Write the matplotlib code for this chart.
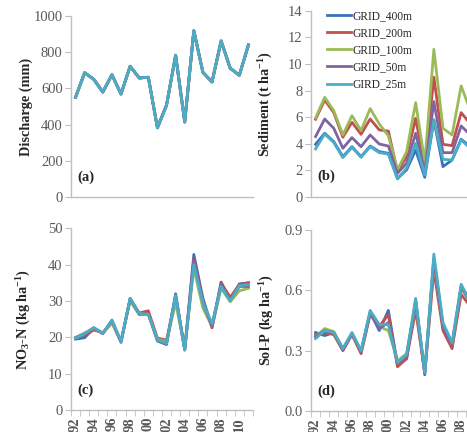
import numpy as np
import matplotlib
matplotlib.use('Agg')
import matplotlib.pyplot as plt

plt.rcParams['font.family'] = 'Liberation Serif'
plt.rcParams['mathtext.fontset'] = 'custom'
plt.rcParams['mathtext.rm'] = 'Liberation Serif'
plt.rcParams['mathtext.bf'] = 'Liberation Serif:bold'
plt.rcParams['mathtext.default'] = 'bf'

years = list(range(1992, 2012))
year_labels = ['92', '94', '96', '98', '00', '02', '04', '06', '08', '10']

grids = ['GRID_400m', 'GRID_200m', 'GRID_100m', 'GRID_50m', 'GIRD_25m']
colors = ['#3a70bf', '#c0504d', '#9bbb59', '#8064a2', '#4bacc6']

# discharge is the same for every grid size
discharge = [551, 687, 651, 580, 676, 569, 723, 658, 662, 382,
             507, 784, 414, 920, 689, 636, 863, 712, 673, 841]

sed_400 = [3.96, 4.79, 4.16, 3.03, 3.78, 3.03, 3.83, 3.41, 3.28, 1.40,
           2.03, 3.53, 1.48, 5.79, 2.28, 2.78, 4.34, 3.78, 4.10, 4.30]
sed_200 = [5.84, 7.29, 6.34, 4.49, 5.61, 4.71, 5.86, 5.04, 4.95, 1.90,
           3.03, 5.91, 2.30, 9.00, 3.96, 3.86, 6.34, 5.50, 5.90, 6.20]
sed_100 = [5.94, 7.49, 6.49, 4.66, 6.11, 4.99, 6.64, 5.49, 4.60, 2.03,
           3.40, 7.09, 2.60, 11.10, 5.16, 4.66, 8.35, 6.50, 7.00, 7.50]
sed_50 = [4.54, 5.86, 5.16, 3.66, 4.46, 3.78, 4.66, 3.98, 3.83, 1.78,
          2.53, 4.79, 1.90, 7.17, 3.33, 3.33, 5.34, 4.66, 5.00, 5.20]
sed_25 = [3.61, 4.74, 4.09, 2.96, 3.73, 2.98, 3.78, 3.33, 3.23, 1.35,
          2.16, 4.04, 1.65, 5.79, 2.83, 2.78, 4.29, 3.66, 4.00, 4.20]

no3_400 = [19.5, 19.9, 22.5, 21.0, 24.5, 18.6, 30.7, 26.5, 26.5, 19.0,
           18.0, 32.0, 16.5, 42.8, 30.7, 22.8, 35.2, 30.2, 34.7, 35.0]
no3_200 = [19.9, 20.6, 22.0, 21.3, 24.0, 18.8, 30.5, 26.7, 27.3, 19.8,
           19.2, 31.0, 16.8, 41.5, 30.0, 22.6, 34.9, 31.0, 34.5, 35.0]
no3_100 = [20.0, 21.2, 22.5, 21.2, 24.0, 19.0, 30.0, 26.2, 26.4, 19.5,
           18.8, 29.5, 17.0, 39.0, 28.0, 23.0, 33.5, 29.8, 32.8, 33.5]
no3_50 = [19.8, 21.0, 22.6, 21.1, 24.6, 18.9, 30.6, 26.4, 26.4, 19.2,
          18.4, 31.5, 16.6, 41.0, 29.5, 23.0, 34.5, 30.2, 34.0, 34.0]
no3_25 = [19.7, 21.0, 22.7, 21.1, 24.8, 18.8, 30.7, 26.6, 26.3, 19.3,
          18.3, 31.5, 16.5, 40.0, 29.5, 23.8, 34.0, 30.0, 34.2, 34.5]

solp_400 = [0.39, 0.375, 0.39, 0.305, 0.385, 0.295, 0.49, 0.40, 0.50, 0.23,
            0.26, 0.55, 0.18, 0.76, 0.42, 0.32, 0.62, 0.55, 0.63, 0.63]
solp_200 = [0.38, 0.39, 0.38, 0.30, 0.38, 0.285, 0.48, 0.42, 0.48, 0.22,
            0.26, 0.50, 0.19, 0.70, 0.40, 0.31, 0.58, 0.52, 0.62, 0.64]
solp_100 = [0.37, 0.41, 0.395, 0.31, 0.385, 0.30, 0.49, 0.42, 0.40, 0.25,
            0.285, 0.53, 0.20, 0.74, 0.43, 0.33, 0.61, 0.54, 0.60, 0.61]
solp_50 = [0.37, 0.40, 0.39, 0.305, 0.385, 0.295, 0.49, 0.41, 0.44, 0.24,
           0.27, 0.54, 0.19, 0.75, 0.42, 0.33, 0.62, 0.54, 0.61, 0.62]
solp_25 = [0.36, 0.40, 0.39, 0.31, 0.39, 0.30, 0.50, 0.43, 0.43, 0.24,
           0.28, 0.56, 0.19, 0.78, 0.44, 0.34, 0.63, 0.54, 0.62, 0.61]

sediment = [sed_400, sed_200, sed_100, sed_50, sed_25]
no3 = [no3_400, no3_200, no3_100, no3_50, no3_25]
solp = [solp_400, solp_200, solp_100, solp_50, solp_25]

tick_grey = '#595959'
axis_grey = '#bfbfbf'

fig = plt.figure(figsize=(4.67, 4.32), dpi=100)

# right column runs past the edge of the picture, like the cropped original
ax_a = fig.add_axes([0.152, 0.5447, 0.3897, 0.4176])
ax_b = fig.add_axes([0.666, 0.5440, 0.3897, 0.4313])
ax_c = fig.add_axes([0.152, 0.0509, 0.3897, 0.4206])
ax_d = fig.add_axes([0.666, 0.0486, 0.3897, 0.4190])

x = np.arange(len(years))


def setup(ax, ylim, yticks, ylabel, tag, show_x, ylab_x, fmt=None):
    ax.set_xlim(-0.5, len(years) - 0.5)
    ax.set_ylim(*ylim)
    ax.set_yticks(yticks)
    if fmt:
        ax.set_yticklabels([fmt.format(v) for v in yticks])
    for s in ['top', 'right']:
        ax.spines[s].set_visible(False)
    for s in ['left', 'bottom']:
        ax.spines[s].set_color(axis_grey)
        ax.spines[s].set_linewidth(1.0)
    ax.tick_params(axis='y', direction='out', length=4, color=axis_grey,
                   labelcolor=tick_grey, labelsize=10.5, pad=2)
    if show_x:
        ax.set_xticks(x[::2])
        ax.set_xticklabels(year_labels, rotation=90, fontweight='bold')
        ax.set_xticks(np.arange(-0.5, len(years), 1), minor=True)
        ax.tick_params(axis='x', which='major', length=0, pad=5,
                       labelcolor=tick_grey, labelsize=10.5)
        ax.tick_params(axis='x', which='minor', length=4, color=axis_grey)
    else:
        ax.set_xticks([])
    ax.set_ylabel(ylabel, fontsize=10.3, fontweight='bold', color='#262626')
    ax.yaxis.set_label_coords(ylab_x, 0.5)
    ax.text(0.033, 0.11, tag, transform=ax.transAxes, fontsize=10.5,
            fontweight='bold', color='#262626', va='center', ha='left')


for i in range(5):
    ax_a.plot(x, discharge, color=colors[i], lw=2.0, label=grids[i])
    ax_b.plot(x, sediment[i], color=colors[i], lw=2.0, label=grids[i])
    ax_c.plot(x, no3[i], color=colors[i], lw=2.0, label=grids[i])
    ax_d.plot(x, solp[i], color=colors[i], lw=2.0, label=grids[i])

setup(ax_a, (0, 1000), np.arange(0, 1001, 200), 'Discharge (mm)', '(a)', False, -0.209)
setup(ax_b, (0, 14), np.arange(0, 15, 2), 'Sediment (t ha$^{-1}$)', '(b)', False, -0.198)
setup(ax_c, (0, 50), np.arange(0, 51, 10), 'NO$_3$-N (kg ha$^{-1}$)', '(c)', True, -0.209)
setup(ax_d, (0, 0.9), [0.0, 0.3, 0.6, 0.9], 'Sol-P (kg ha$^{-1}$)', '(d)', True, -0.19,
      fmt='{:.1f}')

ax_b.legend(loc='upper left', bbox_to_anchor=(0.03, 1.06), frameon=False,
            fontsize=8.3, handlelength=2.1, handletextpad=0.1, labelspacing=0.45,
            labelcolor='#262626')

plt.savefig('out.png', dpi=100)
